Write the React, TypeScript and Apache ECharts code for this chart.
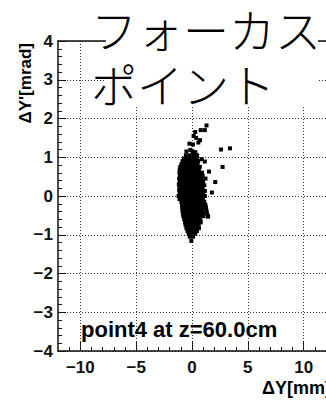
import React, { useEffect, useRef } from "react";
import * as echarts from "echarts";

// Title and annotation texts
const titleLines = ["フォーカス", "ポイント"];
const annotation = "point4 at z=60.0cm";
const xTitle = "ΔY[mm]";
const yTitle = "ΔY'[mrad]";

// Axis ranges and tick values
const xRange = [-12, 12];
const yRange = [-4, 4];
const xMajorTicks = [-10, -5, 0, 5, 10];

// Scatter points [ΔY (mm), ΔY' (mrad)]
const corePoints: [number, number][] = [
  [-0.55, 1.05], [-0.2, 1.05], [0.15, 1.05], [0.45, 1.05],
  [-0.72, 0.97], [-0.43, 0.97], [-0.1, 0.97], [0.2, 0.97], [0.43, 0.97], [0.87, 0.95],
  [-0.85, 0.9], [-0.6, 0.9], [-0.3, 0.9], [0.0, 0.9], [0.3, 0.9], [0.55, 0.9],
  [-0.95, 0.82], [-0.68, 0.82], [-0.38, 0.82], [-0.08, 0.82], [0.22, 0.82], [0.5, 0.82],
  [-1.05, 0.75], [-0.75, 0.75], [-0.45, 0.75], [-0.15, 0.75], [0.15, 0.75], [0.42, 0.75], [0.7, 0.75],
  [-1.1, 0.68], [-0.82, 0.68], [-0.52, 0.68], [-0.22, 0.68], [0.08, 0.68], [0.38, 0.68], [0.62, 0.68],
  [-1.12, 0.6], [-0.85, 0.6], [-0.55, 0.6], [-0.25, 0.6], [0.05, 0.6], [0.35, 0.6], [0.65, 0.6], [0.9, 0.6],
  [-1.08, 0.52], [-0.8, 0.52], [-0.5, 0.52], [-0.2, 0.52], [0.1, 0.52], [0.4, 0.52], [0.7, 0.52], [0.95, 0.52],
  [-1.15, 0.45], [-0.88, 0.45], [-0.58, 0.45], [-0.28, 0.45], [0.02, 0.45], [0.32, 0.45], [0.62, 0.45], [0.85, 0.45],
  [-1.1, 0.37], [-0.8, 0.37], [-0.5, 0.37], [-0.2, 0.37], [0.1, 0.37], [0.4, 0.37], [0.7, 0.37], [0.98, 0.37],
  [-1.18, 0.3], [-0.9, 0.3], [-0.6, 0.3], [-0.3, 0.3], [0.0, 0.3], [0.3, 0.3], [0.6, 0.3], [0.9, 0.3], [1.1, 0.28],
  [-1.12, 0.22], [-0.82, 0.22], [-0.52, 0.22], [-0.22, 0.22], [0.08, 0.22], [0.38, 0.22], [0.68, 0.22], [0.95, 0.22],
  [-1.15, 0.15], [-0.88, 0.15], [-0.58, 0.15], [-0.28, 0.15], [0.02, 0.15], [0.32, 0.15], [0.62, 0.15], [0.92, 0.15], [1.15, 0.13],
  [-1.1, 0.07], [-0.8, 0.07], [-0.5, 0.07], [-0.2, 0.07], [0.1, 0.07], [0.4, 0.07], [0.7, 0.07], [1.0, 0.07],
  [-1.2, 0.0], [-0.92, 0.0], [-0.62, 0.0], [-0.32, 0.0], [-0.02, 0.0], [0.28, 0.0], [0.58, 0.0], [0.88, 0.0], [1.15, 0.0],
  [-1.12, -0.08], [-0.82, -0.08], [-0.52, -0.08], [-0.22, -0.08], [0.08, -0.08], [0.38, -0.08], [0.68, -0.08], [0.98, -0.08],
  [-0.95, -0.15], [-0.68, -0.15], [-0.38, -0.15], [-0.08, -0.15], [0.22, -0.15], [0.52, -0.15], [0.82, -0.15], [1.1, -0.15],
  [-0.9, -0.23], [-0.62, -0.23], [-0.32, -0.23], [-0.02, -0.23], [0.28, -0.23], [0.58, -0.23], [0.88, -0.23], [1.2, -0.23],
  [-0.88, -0.3], [-0.58, -0.3], [-0.28, -0.3], [0.02, -0.3], [0.32, -0.3], [0.62, -0.3], [0.92, -0.3], [1.25, -0.3],
  [-0.85, -0.38], [-0.55, -0.38], [-0.25, -0.38], [0.05, -0.38], [0.35, -0.38], [0.65, -0.38], [0.95, -0.38], [1.3, -0.38],
  [-0.82, -0.45], [-0.52, -0.45], [-0.22, -0.45], [0.08, -0.45], [0.38, -0.45], [0.68, -0.45], [0.98, -0.45], [1.35, -0.45],
  [-0.78, -0.52], [-0.48, -0.52], [-0.18, -0.52], [0.12, -0.52], [0.42, -0.52], [0.72, -0.52], [1.02, -0.52], [1.42, -0.52],
  [-0.7, -0.6], [-0.42, -0.6], [-0.12, -0.6], [0.18, -0.6], [0.48, -0.6], [0.75, -0.6],
  [-0.62, -0.68], [-0.35, -0.68], [-0.05, -0.68], [0.25, -0.68], [0.55, -0.68], [0.78, -0.68],
  [-0.58, -0.75], [-0.3, -0.75], [0.0, -0.75], [0.3, -0.75], [0.6, -0.75],
  [-0.5, -0.83], [-0.22, -0.83], [0.08, -0.83], [0.38, -0.83], [0.62, -0.83],
  [-0.4, -0.9], [-0.12, -0.9], [0.18, -0.9], [0.45, -0.9],
  [-0.3, -0.97], [0.0, -0.97], [0.3, -0.97],
  [-0.2, -1.05], [0.1, -1.05],
  [-0.06, -1.16],
];

const upperPoints: [number, number][] = [
  [-0.5, 1.15], [-0.15, 1.19], [0.05, 1.15], [0.3, 1.13], [0.14, 1.09],
  [0.09, 1.33], [-0.23, 1.35], [0.57, 1.38], [0.72, 1.44],
  [0.37, 1.5], [0.14, 1.55], [0.29, 1.65],
  [0.78, 1.7], [1.15, 1.7], [1.3, 1.82],
];

const outlierPoints: [number, number][] = [
  [2.6, 1.2], [3.4, 1.23], [2.74, 0.75], [1.52, 0.63], [1.15, 0.89],
  [2.08, 0.36], [1.78, 0.09], [1.21, 0.45], [1.44, -0.53],
];

const fmt = (v: number) => (v < 0 ? "\u2212" + Math.abs(v) : String(v));

const labelFont = {
  fontFamily: "Liberation Sans, Arial, sans-serif",
  fontWeight: "bold" as const,
  fontSize: 17,
  color: "#111",
};

export default function App() {
  const ref = useRef<HTMLDivElement>(null);

  useEffect(() => {
    if (!ref.current) return;
    const chart = echarts.init(ref.current, undefined, { renderer: "svg" });
    const frame = { show: true, onZero: false, lineStyle: { color: "#111", width: 1.5 } };
    const dotted = { type: [1, 2] as number[], color: "#333", width: 1 };

    chart.setOption({
      animation: false,
      backgroundColor: "#fff",
      grid: { left: 58, top: 41, width: 277, height: 310, containLabel: false },
      xAxis: [
        {
          type: "value",
          min: xRange[0],
          max: xRange[1],
          interval: 1,
          position: "bottom",
          axisLine: frame,
          axisTick: { show: true, inside: true, length: 4, lineStyle: { color: "#111", width: 1 } },
          axisLabel: {
            ...labelFont,
            margin: 8,
            showMinLabel: false,
            showMaxLabel: false,
            formatter: (v: number) => (v % 5 === 0 ? fmt(v) : ""),
          },
          splitLine: { show: false },
        },
        {
          type: "value",
          min: xRange[0],
          max: xRange[1],
          position: "bottom",
          axisLine: { show: false, onZero: false },
          axisTick: {
            show: true,
            inside: true,
            length: 9,
            customValues: xMajorTicks,
            lineStyle: { color: "#111", width: 1 },
          },
          axisLabel: { show: false },
          splitLine: { show: false },
        },
        {
          type: "value",
          min: xRange[0],
          max: xRange[1],
          position: "top",
          axisLine: frame,
          axisTick: { show: false },
          axisLabel: { show: false },
          splitLine: { show: false },
        },
      ],
      yAxis: [
        {
          type: "value",
          min: yRange[0],
          max: yRange[1],
          interval: 1,
          position: "left",
          axisLine: frame,
          axisTick: { show: true, inside: true, length: 8, lineStyle: { color: "#111", width: 1 } },
          minorTick: { show: true, splitNumber: 5, length: 4, lineStyle: { color: "#111", width: 1 } },
          axisLabel: { ...labelFont, margin: 5, formatter: (v: number) => fmt(v) },
          splitLine: { show: true, lineStyle: dotted },
        },
      ],
      series: [
        {
          type: "scatter",
          xAxisIndex: 0,
          yAxisIndex: 0,
          symbol: "rect",
          symbolSize: 4,
          itemStyle: { color: "#000", opacity: 1 },
          data: [...corePoints, ...upperPoints, ...outlierPoints],
          z: 3,
          markLine: {
            silent: true,
            symbol: ["none", "none"],
            label: { show: false },
            lineStyle: dotted,
            data: xMajorTicks.map((v) => ({ xAxis: v })),
            z: 1,
          },
        },
      ],
      graphic: [
        {
          type: "rect",
          z: 100,
          shape: { x: 106, y: 0, width: 212, height: 105 },
          style: { fill: "#fff" },
        },
        {
          type: "text",
          z: 101,
          x: 91,
          y: 28,
          style: {
            text: titleLines[0],
            fontSize: 46,
            fontWeight: 300,
            fontFamily: "Noto Sans CJK JP",
            fill: "#000",
            textAlign: "left",
            textVerticalAlign: "middle",
          },
        },
        {
          type: "text",
          z: 101,
          x: 91,
          y: 83,
          style: {
            text: titleLines[1],
            fontSize: 46,
            fontWeight: 300,
            fontFamily: "Noto Sans CJK JP",
            fill: "#000",
            textAlign: "left",
            textVerticalAlign: "middle",
          },
        },
        {
          type: "text",
          z: 101,
          x: 81,
          y: 329,
          style: {
            text: annotation,
            fontSize: 22,
            fontWeight: "bold",
            fontFamily: "Liberation Sans, Arial, sans-serif",
            fill: "#000",
            textAlign: "left",
            textVerticalAlign: "middle",
          },
        },
        {
          type: "text",
          z: 101,
          x: 262,
          y: 388,
          style: {
            text: xTitle,
            fontSize: 18,
            fontWeight: "bold",
            fontFamily: "Liberation Sans, Arial, sans-serif",
            fill: "#000",
            textAlign: "left",
            textVerticalAlign: "middle",
          },
        },
        {
          type: "text",
          z: 101,
          x: 25,
          y: 43,
          rotation: Math.PI / 2,
          style: {
            text: yTitle,
            fontSize: 17,
            fontWeight: "bold",
            fontFamily: "Liberation Sans, Arial, sans-serif",
            fill: "#000",
            textAlign: "right",
            textVerticalAlign: "middle",
          },
        },
      ],
    });

    return () => chart.dispose();
  }, []);

  return (
    <div
      ref={ref}
      style={{ position: "fixed", left: 0, top: 0, width: 326, height: 402, overflow: "hidden" }}
    />
  );
}
